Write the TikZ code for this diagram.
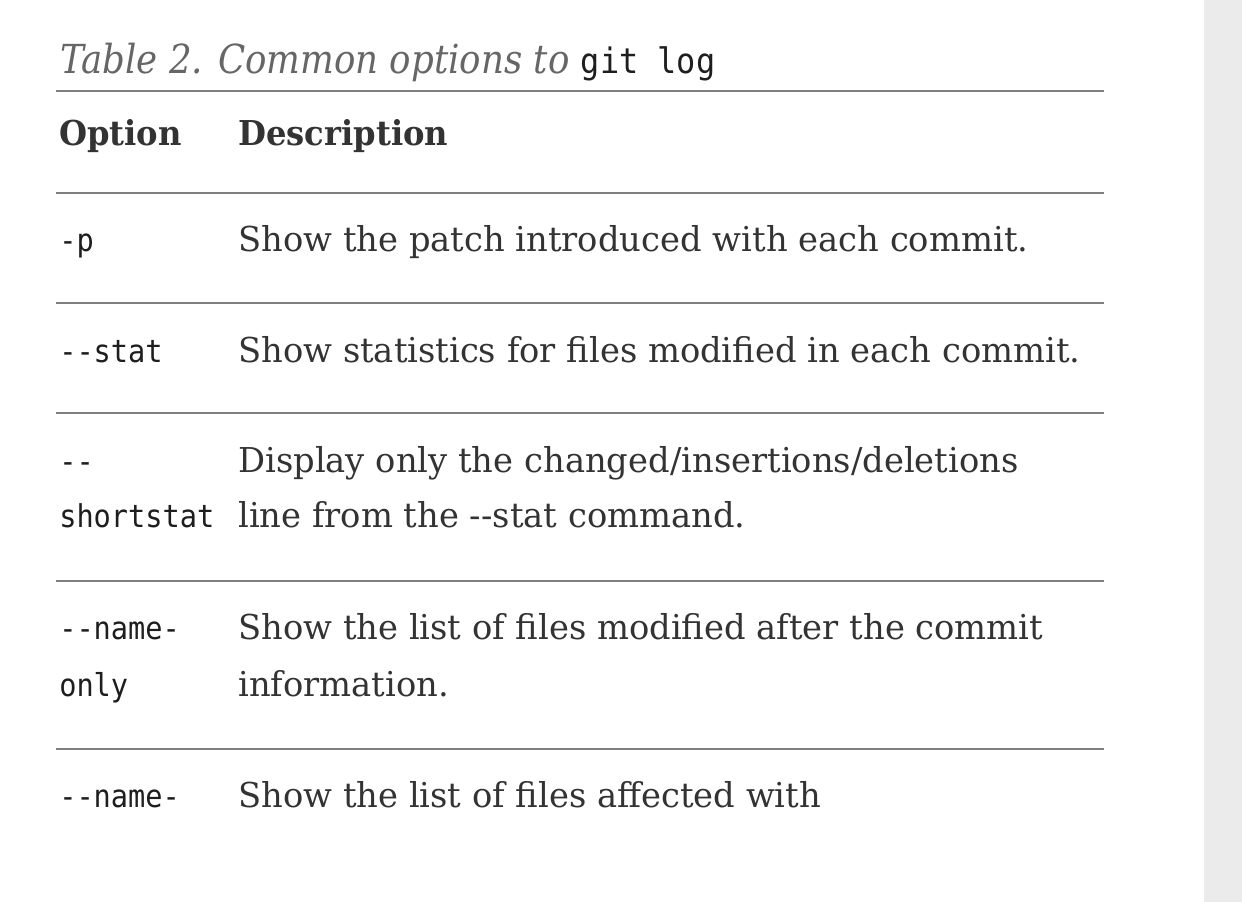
\documentclass[tikz,border=0pt]{standalone}
\usepackage{fontspec}
\setmainfont{DejaVu Serif}[
  UprightFeatures={FakeStretch=0.985},
  BoldFeatures={FakeStretch=0.94},
  ItalicFeatures={FakeStretch=0.89}]
\setmonofont{DejaVu Sans Mono}[FakeStretch=0.91]

\definecolor{rulegray}{HTML}{7F7F7F}
\definecolor{striped}{HTML}{EBEBEB}
\definecolor{bodytext}{HTML}{333333}
\definecolor{opttext}{HTML}{1E1E1E}
\definecolor{captext}{HTML}{666666}

\newcommand{\descfont}{\fontsize{25.7}{30}\selectfont}
\newcommand{\optfont}{\ttfamily\fontsize{23.6}{28}\selectfont}
\newcommand{\capfont}{\itshape\fontsize{30}{36}\selectfont}
\newcommand{\capmono}{\upshape\ttfamily\fontsize{26.3}{30}\selectfont\color{opttext}}

\tikzset{
  rule/.style={draw=rulegray, line width=1.5pt},
  cell/.style={anchor=base west, inner sep=0pt},
  desc/.style={cell, text=bodytext, font=\descfont},
  head/.style={desc, font=\descfont\bfseries},
  opt/.style={cell, text=opttext, font=\optfont}
}

\begin{document}
\begin{tikzpicture}[x=0.75pt,y=-0.75pt]

\useasboundingbox (0,0) rectangle (1242,902);
\fill[striped] (1204,0) rectangle (1242,902);

\foreach \y in {91,193,303,413,581,749}
    \draw[rule] (56,\y) -- (1104,\y);

\node[cell, text=captext, font=\capfont] (caption) at (60,74)
    {Table 2. Common options to {\capmono git log}};

\node[head] (hopt) at (59,146) {Option};
\node[head] (hdesc) at (238,146) {Description};

\node[opt] (p) at (59,252) {-p};
\node[desc] (pdesc) at (238,252) {Show the patch introduced with each commit.};

\node[opt] (stat) at (59,362) {-{}-stat};
\node[desc] (statdesc) at (238,362) {Show statistics for files modified in each commit.};

\node[opt] (short1) at (59,472) {-{}-};
\node[opt] (short2) at (59,527) {shortstat};
\node[desc] (shortdesc1) at (238,472) {Display only the changed/insertions/deletions};
\node[desc] (shortdesc2) at (238,527) {line from the -{}-stat command.};

\node[opt] (nameonly1) at (59,639) {-{}-name-};
\node[opt] (nameonly2) at (59,696) {only};
\node[desc] (nameonlydesc1) at (238,639) {Show the list of files modified after the commit};
\node[desc] (nameonlydesc2) at (238,696) {information.};

\node[opt] (namestat) at (59,807) {-{}-name-};
\node[desc] (namestatdesc) at (238,807) {Show the list of files affected with};

\end{tikzpicture}
\end{document}
